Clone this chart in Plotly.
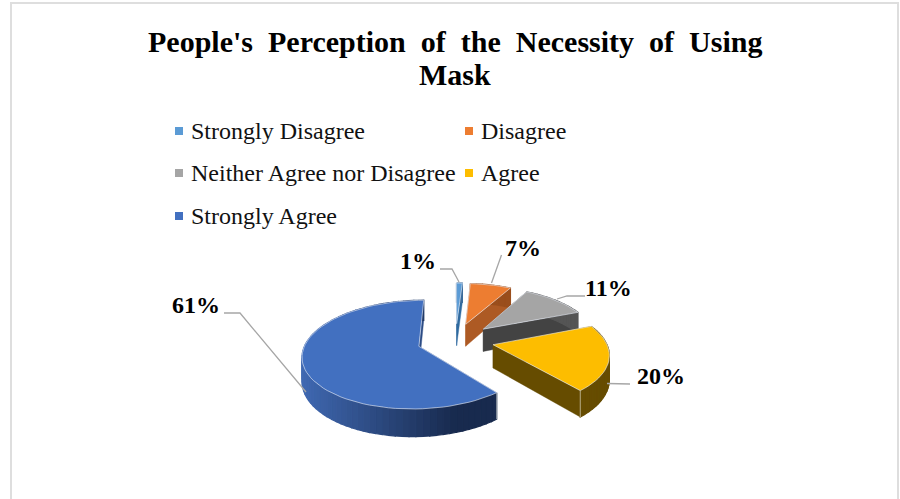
import numpy as np
import plotly.graph_objects as go

# Survey results
categories = ["Strongly Disagree", "Disagree", "Neither Agree nor Disagree", "Agree", "Strongly Agree"]
percent = [1, 7, 11, 20, 61]
top_colors = ["#5b9bd5", "#ed7d31", "#a5a5a5", "#fdbd00", "#4270c0"]
radial_colors = ["#2f6a9f", "#ad5a24", "#434343", "#664c00", "#2c4c85"]
wall_start = ["#3a6b9b", "#9a4e1c", "#555555", "#664c00", "#4069b2"]
wall_end = ["#3a6b9b", "#9a4e1c", "#555555", "#664c00", "#182a4e"]

WORD_GAP = " \u200a\u200a\u200a"
title_lines = [WORD_GAP.join("People's Perception of the Necessity of Using".split(" ")), "Mask"]

# Projection of the exploded disc (units: disc radii, Y towards the viewer)
CX, CY = 455.5, 340.3
RADIUS, TILT, PERSPECTIVE = 112.5, 0.456, 0.15
EXPLODE = 0.34
DEPTH = 23.0


def project(x, y, drop=0.0):
    f = 1.0 / (1.0 - PERSPECTIVE * np.asarray(y))
    return CX + RADIUS * np.asarray(x) * f, CY + RADIUS * TILT * np.asarray(y) * f + drop * f


def hex_mix(a, b, t):
    ca = [int(a[i:i + 2], 16) for i in (1, 3, 5)]
    cb = [int(b[i:i + 2], 16) for i in (1, 3, 5)]
    return "rgb(" + ",".join(str(round(p + (q - p) * t)) for p, q in zip(ca, cb)) + ")"


fig = go.Figure()


def polygon(xs, ys, fill, edge=None, width=1.2):
    fig.add_trace(go.Scatter(
        x=list(xs) + [xs[0]], y=list(ys) + [ys[0]], mode="lines", fill="toself",
        fillcolor=fill, line=dict(color=edge or fill, width=width),
        hoverinfo="skip", showlegend=False,
    ))


edges = np.cumsum([0] + percent) / sum(percent) * 2 * np.pi
EDGE = "rgba(235,240,250,0.75)"

# Paint slices back to front: radial walls, rim, then the top face
for i in range(len(percent)):
    a0, a1 = edges[i], edges[i + 1]
    mid = (a0 + a1) / 2
    ox, oy = EXPLODE * np.sin(mid), -EXPLODE * np.cos(mid)
    ang = np.linspace(a0, a1, max(6, int((a1 - a0) * 20)))
    ax, ay = ox + np.sin(ang), oy - np.cos(ang)

    for a in (a0, a1):
        ex, ey = ox + np.sin(a), oy - np.cos(a)
        px, py = project([ox, ex], [oy, ey])
        qx, qy = project([ox, ex], [oy, ey], DEPTH)
        polygon([px[0], px[1], qx[1], qx[0]], [py[0], py[1], qy[1], qy[0]], radial_colors[i], width=0.4)

    tx, ty = project(ax, ay)
    bx, by = project(ax, ay, DEPTH)
    span = tx.max() - tx.min()
    for j in range(len(ang) - 1):
        t = min(1.0, (tx[j] - tx.min()) / span * 1.25)
        polygon([tx[j], tx[j + 1], bx[j + 1], bx[j]], [ty[j], ty[j + 1], by[j + 1], by[j]],
                hex_mix(wall_start[i], wall_end[i], t))

    # Pale highlight on the front vertical corner
    for a in (a0, a1):
        if np.cos(a) < -0.5:
            ex, ey = ox + np.sin(a), oy - np.cos(a)
            px, py = project([ex], [ey])
            qx, qy = project([ex], [ey], DEPTH)
            fig.add_trace(go.Scatter(x=[px[0], qx[0]], y=[py[0], qy[0]], mode="lines",
                                     line=dict(color="rgba(235,235,225,0.6)", width=1),
                                     hoverinfo="skip", showlegend=False))

    fx, fy = project(np.r_[ox, ax], np.r_[oy, ay])
    polygon(list(fx), list(fy), top_colors[i], EDGE, 0.8)

# Leader lines from the slices to their labels
leaders = [
    ([440, 452, 459], [269, 269, 282]),
    ([501.5, 491.5], [255, 283]),
    ([585, 567, 557], [296, 296, 299]),
    ([630, 607], [384, 383.5]),
    ([224, 240, 306], [313, 313, 392]),
]
for lx, ly in leaders:
    fig.add_trace(go.Scatter(x=lx, y=ly, mode="lines", line=dict(color="#a6a6a6", width=1.3),
                             hoverinfo="skip", showlegend=False))

# Key: swatch plus label, two columns and three rows
key_x = [179, 469, 179, 469, 179]
key_y = [131, 131, 173, 173, 216]
for name, colour, kx, ky in zip(categories, top_colors, key_x, key_y):
    fig.add_trace(go.Scatter(
        x=[kx], y=[ky], mode="markers",
        marker=dict(symbol="square", size=8, color=colour), hoverinfo="skip", showlegend=False,
    ))
    fig.add_annotation(x=kx + 10, y=ky, text=name, showarrow=False, xanchor="left", yanchor="middle",
                       font=dict(family="Liberation Serif", size=24, color="#111111"))

# Percentage labels beside the slices
label_x = [418, 523, 608, 661, 196]
label_y = [261, 248, 288, 376, 305]
for value, lx, ly in zip(percent, label_x, label_y):
    fig.add_annotation(x=lx, y=ly, text=f"<b>{value}%</b>", showarrow=False,
                       font=dict(family="Liberation Serif", size=24, color="#000000"))

# Two-line heading
for line, hy in zip(title_lines, [41.5, 74]):
    fig.add_annotation(x=455, y=hy, text=f"<b>{line}</b>", showarrow=False,
                       font=dict(family="Liberation Serif", size=30, color="#000000"))

fig.update_layout(
    width=900, height=499, margin=dict(l=0, r=0, t=0, b=0),
    paper_bgcolor="white", plot_bgcolor="white", showlegend=False,
    xaxis=dict(range=[0, 900], visible=False, fixedrange=True),
    yaxis=dict(range=[499, 0], visible=False, fixedrange=True),
    shapes=[dict(type="rect", x0=11, y0=3, x1=898, y1=520, line=dict(color="#dedede", width=2), layer="below")],
)
fig.write_html("out.html", config={"displayModeBar": False})
